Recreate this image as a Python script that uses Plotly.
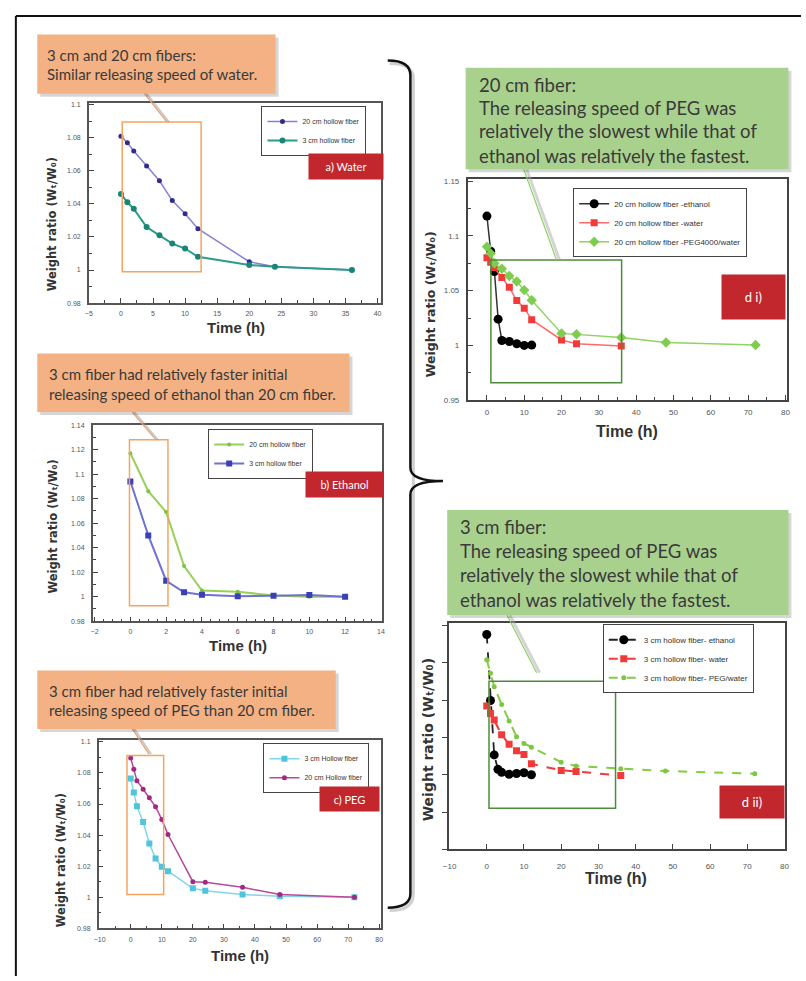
import plotly.graph_objects as go

# ---------------- data ----------------
# a) Water
t_a_20 = [0, 1, 2, 4, 6, 8, 10, 12, 20, 24, 36]
w_a_20 = [1.081, 1.077, 1.072, 1.063, 1.054, 1.042, 1.034, 1.025, 1.005, 1.002, 1.000]
t_a_3 = [0, 1, 2, 4, 6, 8, 10, 12, 20, 24, 36]
w_a_3 = [1.046, 1.041, 1.037, 1.026, 1.021, 1.016, 1.013, 1.008, 1.003, 1.002, 1.000]
# b) Ethanol
t_b = [0, 1, 2, 3, 4, 6, 8, 10, 12]
w_b_20 = [1.117, 1.086, 1.069, 1.025, 1.005, 1.004, 1.001, 1.000, 1.000]
w_b_3 = [1.094, 1.050, 1.013, 1.0035, 1.0016, 1.0003, 1.0008, 1.0013, 1.000]
# c) PEG
t_c = [0, 1, 2, 4, 6, 8, 10, 12, 20, 24, 36, 48, 72]
w_c_3 = [1.0765, 1.0674, 1.0585, 1.0484, 1.0346, 1.0249, 1.0196, 1.0168, 1.0057, 1.0041, 1.0017, 1.0007, 1.000]
w_c_20 = [1.0897, 1.0824, 1.075, 1.0695, 1.0641, 1.0582, 1.0501, 1.0404, 1.010, 1.0096, 1.0064, 1.0017, 1.000]
# d i) 20 cm fiber
t_di_eth = [0, 1, 2, 3, 4, 6, 8, 10, 12]
w_di_eth = [1.118, 1.086, 1.0675, 1.024, 1.0045, 1.0036, 1.0015, 1.000, 1.0003]
t_di_wat = [0, 1, 2, 4, 6, 8, 10, 12, 20, 24, 36]
w_di_wat = [1.080, 1.076, 1.071, 1.062, 1.053, 1.041, 1.034, 1.0235, 1.005, 1.0015, 0.9995]
t_di_peg = [0, 1, 2, 4, 6, 8, 10, 12, 20, 24, 36, 48, 72]
w_di_peg = [1.090, 1.084, 1.075, 1.070, 1.0634, 1.0583, 1.0505, 1.0412, 1.011, 1.0102, 1.0072, 1.0027, 1.0004]
# d ii) 3 cm fiber
t_dii_eth = [0, 1, 2, 3, 4, 6, 8, 10, 12]
w_dii_eth = [1.094, 1.0497, 1.0133, 1.0036, 1.0016, 1.0003, 1.0008, 1.0013, 1.000]
t_dii_wat = [0, 1, 2, 4, 6, 8, 10, 12, 20, 24, 36]
w_dii_wat = [1.046, 1.041, 1.0367, 1.0268, 1.0204, 1.016, 1.0135, 1.0073, 1.0029, 1.0022, 0.9994]
t_dii_peg = [0, 1, 2, 4, 6, 8, 10, 12, 20, 24, 36, 48, 72]
w_dii_peg = [1.077, 1.068, 1.059, 1.047, 1.036, 1.0255, 1.021, 1.0184, 1.0084, 1.0058, 1.004, 1.0025, 1.0007]

# highlight windows (time range, ratio range) per panel
win_a = ([0.2, 12.5], [0.999, 1.0896])
win_b = ([-0.05, 2.1], [0.9925, 1.128])
win_c = ([-1.2, 10.6], [1.0017, 1.0913])
win_di = ([1.06, 36.1], [0.966, 1.078])
win_dii = ([0.6, 34.6], [0.9775, 1.0626])

W, H = 806, 981
def px(x): return x / W
def py(y): return 1 - y / H

FONT = "Liberation Sans, Arial, sans-serif"
TXT = "Lato, Open Sans, sans-serif"

fig = go.Figure()

def add(x, y, name, ax, legend, lc, mc, sym, ms, lw=1.5, dash="solid"):
    fig.add_trace(go.Scatter(
        x=x, y=y, name=name, mode="lines+markers",
        xaxis="x" + ax, yaxis="y" + ax, legend=legend,
        line=dict(color=lc, width=lw, dash=dash),
        marker=dict(color=mc, symbol=sym, size=ms)))

add(t_a_20, w_a_20, "20 cm hollow fiber", "", "legend", "#8a7fd4", "#2e2e8a", "circle", 5)
add(t_a_3, w_a_3, "3 cm hollow fiber", "", "legend", "#2a9c8b", "#1a8577", "circle", 6, 2)
add(t_b, w_b_20, "20 cm hollow fiber", "2", "legend2", "#98d05a", "#7cc242", "circle", 4, 2)
add(t_b, w_b_3, "3 cm hollow fiber", "2", "legend2", "#6f72d2", "#3a40b5", "square", 6, 2)
add(t_c, w_c_3, "3 cm Hollow fiber", "3", "legend3", "#82d7e6", "#4fc4da", "square", 6)
add(t_c, w_c_20, "20 cm Hollow fiber", "3", "legend3", "#b8489c", "#a02a82", "circle", 5)
add(t_di_eth, w_di_eth, "20 cm hollow fiber -ethanol", "4", "legend4", "#333333", "#000000", "circle", 9)
add(t_di_wat, w_di_wat, "20 cm hollow fiber -water", "4", "legend4", "#ff6a6a", "#f23a3a", "square", 7)
add(t_di_peg, w_di_peg, "20 cm hollow fiber -PEG4000/water", "4", "legend4", "#8fd460", "#7fcc50", "diamond", 8)
add(t_dii_eth, w_dii_eth, "3 cm hollow fiber- ethanol", "5", "legend5", "#222222", "#000000", "circle", 9, 1.8, "dash")
add(t_dii_wat, w_dii_wat, "3 cm hollow fiber- water", "5", "legend5", "#f23a3a", "#f23a3a", "square", 7, 2, "dash")
add(t_dii_peg, w_dii_peg, "3 cm hollow fiber- PEG/water", "5", "legend5", "#84cc44", "#7fc742", "circle", 5, 2, "dash")

def axis(xr, yr, rng, dt, mdt, showlabels=True, tsize=7, lw=1.5, lc="#555", standoff=3):
    d = dict(domain=[px(xr[0]), px(xr[1])] if xr else [py(yr[1]), py(yr[0])],
             range=rng, dtick=dt, tick0=0, ticks="inside", ticklen=5, tickwidth=1,
             tickcolor="#444", showline=True, mirror=True, linecolor=lc, linewidth=lw,
             showgrid=False, zeroline=False, showticklabels=showlabels,
             tickfont=dict(family=FONT, size=tsize, color="#555"),
             ticklabelstandoff=standoff)
    if mdt:
        d["minor"] = dict(dtick=mdt, ticks="inside", ticklen=3, tickcolor="#444", showgrid=False)
    return d

panels = [
    ("", (84, 380), (100, 302), [-5, 40.5], [0.9799, 1.101], 5, 2.5, 0.02, 0.01),
    ("2", (88, 381), (425, 623), [-2.1, 14.05], [0.9799, 1.14], 2, 0.5, 0.02, 0.01),
    ("3", (94, 380), (742.7, 933), [-10.3, 80.5], [0.9799, 1.1013], 10, 5, 0.02, 0.01),
    ("4", (468.3, 791.7), (176.7, 400), [-5.1, 80.4], [0.9499, 1.1518], 10, 5, 0.05, 0.025),
    ("5", (449.3, 789.3), (625, 853.3), [-10.1, 80], [0.9499, 1.1015], 10, None, 0.025, None),
]
lay = {}
for ax, xr, yr, xrng, yrng, xd, xm, yd, ym in panels:
    big = ax in ("4", "5")
    xa = axis(xr, None, xrng, xd, xm, tsize=8 if big else 7,
              lw=2 if big else 1.5, lc="#444" if big else "#555",
              standoff=8 if ax == "5" else 3)
    ya = axis(None, yr, yrng, yd, ym, showlabels=(ax != "5"), tsize=8 if big else 7,
              lw=2 if big else 1.5, lc="#444" if big else "#555", standoff=5)
    if ax == "5":
        ya["ticks"] = "outside"
    xa["anchor"] = "y" + ax
    ya["anchor"] = "x" + ax
    lay["xaxis" + ax] = xa
    lay["yaxis" + ax] = ya

def leg(x0, y0, size=7):
    return dict(x=px(x0), y=py(y0), xanchor="left", yanchor="top",
                bgcolor="white", bordercolor="#444", borderwidth=1,
                font=dict(family=FONT, size=size, color="#333"),
                itemwidth=30, tracegroupgap=0)

fig.update_layout(
    width=W, height=H, margin=dict(l=0, r=0, t=0, b=0),
    paper_bgcolor="white", plot_bgcolor="rgba(0,0,0,0)",
    legend=leg(259, 103), legend2=leg(205, 429), legend3=leg(261, 746),
    legend4=leg(575, 186, 8), legend5=leg(605, 626, 8),
    **lay)

shapes = []
ann = []

def rect(x0, y0, x1, y1, **kw):
    shapes.append(dict(type="rect", xref="paper", yref="paper",
                       x0=px(x0), x1=px(x1), y0=py(y1), y1=py(y0), **kw))

def line(x0, y0, x1, y1, color, width):
    shapes.append(dict(type="line", xref="paper", yref="paper",
                       x0=px(x0), y0=py(y0), x1=px(x1), y1=py(y1),
                       line=dict(color=color, width=width)))

# outer frame
line(10, 12, 806, 12, "#111", 2)
line(10, 12, 10, 981, "#111", 2)

# highlight windows (data coords)
for ax, (wx, wy), col in [("", win_a, "#f4a460"), ("2", win_b, "#f4a460"), ("3", win_c, "#f4a460"),
                          ("4", win_di, "#4c8c3a"), ("5", win_dii, "#4c8c3a")]:
    shapes.append(dict(type="rect", xref="x" + ax, yref="y" + ax,
                       x0=wx[0], x1=wx[1], y0=wy[0], y1=wy[1],
                       line=dict(color=col, width=1.5), layer="above"))

# callout pointers
for (x0, y0, x1, y1) in [(140, 90, 163, 119), (128, 412, 152, 440), (127, 730, 145, 757)]:
    line(x0 + 2, y0, x1 + 2, y1, "rgba(150,150,150,0.5)", 2)
    line(x0, y0, x1, y1, "#eba070", 1.2)
for (x0, y0, x1, y1) in [(525, 167, 558, 258), (508, 617, 538, 675)]:
    line(x0 + 3, y0, x1 + 3, y1, "rgba(170,170,170,0.5)", 3)
    line(x0, y0, x1, y1, "#8fd06a", 1.2)

# callout boxes
boxes = [
    ((31.7, 30.7, 273.3, 90.7), "#f4b183", 40, [(51.7, "3 cm and 20 cm fibers:"), (70.7, "Similar releasing speed of water.")], 15),
    ((31.7, 352.7, 348.3, 411.7), "#f4b183", 41.5, [(373.3, "3 cm fiber had relatively faster initial"), (393.3, "releasing speed of ethanol than 20 cm fiber.")], 15),
    ((31.7, 672.7, 334.3, 731.7), "#f4b183", 41.5, [(693.3, "3 cm fiber had relatively faster initial"), (712.5, "releasing speed of PEG than 20 cm fiber.")], 15),
    ((466, 64.3, 793.3, 166.7), "#a9d18e", 477.5, [(81.7, "20 cm fiber:"), (105, "The releasing speed of PEG was"), (128.3, "relatively the slowest while that of"), (153, "ethanol was relatively the fastest.")], 18.5),
    ((447.3, 510.7, 793.3, 616.7), "#a9d18e", 458.3, [(528.3, "3 cm fiber:"), (552.3, "The releasing speed of PEG was"), (576.7, "relatively the slowest while that of"), (601.5, "ethanol was relatively the fastest.")], 18.5),
]
for (x0, y0, x1, y1), fill, tx, lines, fs in boxes:
    rect(x0 + 3, y0 + 3, x1 + 3, y1 + 3, fillcolor="rgba(0,0,0,0.16)", line=dict(width=0))
    rect(x0, y0, x1, y1, fillcolor=fill, line=dict(width=0))
    for yy, t in lines:
        ann.append(dict(xref="paper", yref="paper", x=px(tx), y=py(yy), xanchor="left",
                        yanchor="middle", text=t, showarrow=False,
                        font=dict(family=TXT, size=fs, color="#3a3a3a")))

# brace
def P(x, y):
    return f"{px(x):.5f},{py(y):.5f}"
brace = ("M " + P(387, 57) + " Q " + P(410, 57) + " " + P(410, 72) +
         " L " + P(410, 468) + " Q " + P(410, 481.5) + " " + P(443, 481.5) +
         " Q " + P(410, 481.5) + " " + P(410, 495) +
         " L " + P(410, 898) + " Q " + P(410, 912) + " " + P(387, 912))
brace_sh = ("M " + P(389, 60) + " Q " + P(413, 60) + " " + P(413, 75) +
            " L " + P(413, 470) + " L " + P(413, 898) + " Q " + P(413, 915) + " " + P(389, 915))
shapes.append(dict(type="path", xref="paper", yref="paper", path=brace_sh,
                   line=dict(color="rgba(120,120,120,0.35)", width=3)))
shapes.append(dict(type="path", xref="paper", yref="paper", path=brace,
                   line=dict(color="#111", width=2.5)))

# red panel labels
for (x0, y0, x1, y1), t, fs in [((308, 152, 382, 177), "a) Water", 11),
                                 ((305, 472, 382, 497), "b) Ethanol", 11),
                                 ((319, 790, 378, 814), "c) PEG", 11),
                                 ((726.7, 274, 789.3, 317.7), "d i)", 13),
                                 ((724.3, 789, 788.3, 821), "d ii)", 13)]:
    ann.append(dict(xref="paper", yref="paper", x=px((x0 + x1) / 2), y=py((y0 + y1) / 2),
                    xanchor="center", yanchor="middle", text=t, showarrow=False,
                    width=x1 - x0, height=y1 - y0, bgcolor="#c1272d", borderpad=0,
                    font=dict(family=TXT, size=fs, color="white")))

# axis titles
ytitle = "Weight ratio (W\u209c/W\u2080)"
for x, y, s in [(47, 222, 12.5), (48, 527, 12.5), (56, 864, 12.5), (430, 303, 13.5), (428, 743, 15)]:
    ann.append(dict(xref="paper", yref="paper", x=px(x), y=py(y), text=f"<b>{ytitle}</b>",
                    textangle=-90, showarrow=False, xanchor="center", yanchor="middle",
                    font=dict(family="DejaVu Sans, " + FONT, size=s - 1, color="#333")))
for x, y, s in [(233, 327, 15), (235, 647, 15), (237, 960, 15), (630, 431, 16), (618, 883, 16)]:
    ann.append(dict(xref="paper", yref="paper", x=px(x), y=py(y), text="<b>Time (h)</b>",
                    showarrow=False, xanchor="center", yanchor="middle",
                    font=dict(family=FONT, size=s, color="#333")))

fig.update_layout(shapes=shapes, annotations=ann)
fig.write_html("out.html", config={"displayModeBar": False},
               post_script="document.body.style.margin='0';document.body.style.overflow='hidden';")
